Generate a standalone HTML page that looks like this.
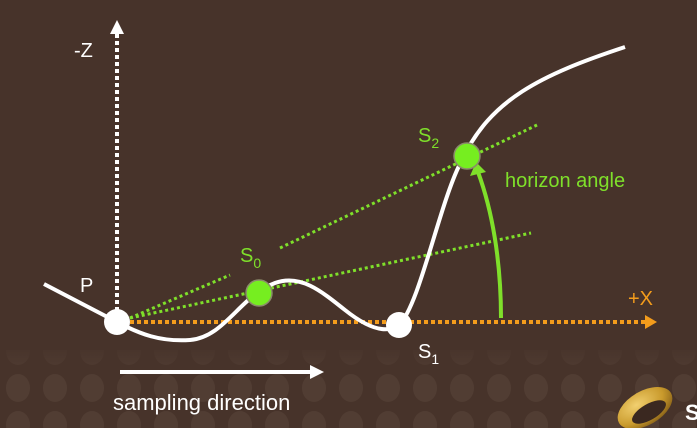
<!DOCTYPE html>
<html><head><meta charset="utf-8"><style>
html,body{margin:0;padding:0;background:#47332a;width:697px;height:428px;overflow:hidden;}
svg{display:block;font-family:"Liberation Sans",sans-serif;}
</style></head><body>
<svg width="697" height="428" viewBox="0 0 697 428">
<defs>
<pattern id="dots" x="0" y="0" width="37" height="37" patternUnits="userSpaceOnUse">
<ellipse cx="18" cy="18" rx="12" ry="14" fill="#513d33"/>
</pattern>
<linearGradient id="fade" x1="0" y1="0" x2="0" y2="1">
<stop offset="0" stop-color="#47332a" stop-opacity="1"/>
<stop offset="1" stop-color="#47332a" stop-opacity="0"/>
</linearGradient>
<radialGradient id="gold" cx="0.4" cy="0.3" r="0.8">
<stop offset="0" stop-color="#f2d070"/><stop offset="0.6" stop-color="#c99a2c"/><stop offset="1" stop-color="#7a5514"/>
</radialGradient>
</defs>
<rect width="697" height="428" fill="#47332a"/>
<rect x="0" y="350" width="697" height="78" fill="url(#dots)"/>
<rect x="0" y="345" width="697" height="30" fill="url(#fade)"/>

<line x1="117" y1="318" x2="117" y2="32" stroke="#fff" stroke-width="4" stroke-dasharray="4,3"/>
<polygon points="110,34 124,34 117,20" fill="#fff"/>
<text x="74" y="57" font-size="20" fill="#fff">-Z</text>

<line x1="130" y1="322" x2="645" y2="322" stroke="#f39c1c" stroke-width="4" stroke-dasharray="4,3"/>
<polygon points="645,315 645,329 657,322" fill="#f39c1c"/>
<text x="628" y="305" font-size="20" fill="#f39c1c">+X</text>

<line x1="130" y1="318" x2="230" y2="275" stroke="#7fe02a" stroke-width="3" stroke-dasharray="3,3"/>
<line x1="280" y1="248" x2="537" y2="125" stroke="#7fe02a" stroke-width="3" stroke-dasharray="3,3"/>
<line x1="130" y1="318" x2="531" y2="233" stroke="#7fe02a" stroke-width="3" stroke-dasharray="3,3"/>

<path d="M44,284 L117,322 C140,334 160,342 190,340 C225,337 240,296 275,283 C300,274 320,290 345,310 C365,326 385,335 399,325 C420,305 440,200 462,160 C490,100 540,75 625,47" fill="none" stroke="#fff" stroke-width="4"/>

<path d="M501,318 C501,260 492,210 478,172" fill="none" stroke="#7fe02a" stroke-width="4"/>
<polygon points="470,176 486,172 476,162" fill="#7fe02a"/>
<text x="505" y="187" font-size="20" fill="#7fe02a">horizon angle</text>

<circle cx="117" cy="322" r="13" fill="#fff"/>
<text x="80" y="292" font-size="20" fill="#fff">P</text>
<circle cx="259" cy="293" r="13" fill="#76ee20" stroke="#8a8a6a" stroke-width="1.5"/>
<text x="240" y="262" font-size="20" fill="#7fe02a">S<tspan font-size="14" dy="6">0</tspan></text>
<circle cx="399" cy="325" r="13" fill="#fff"/>
<text x="418" y="358" font-size="20" fill="#fff">S<tspan font-size="14" dy="6">1</tspan></text>
<circle cx="467" cy="156" r="13" fill="#76ee20" stroke="#8a8a6a" stroke-width="1.5"/>
<text x="418" y="142" font-size="20" fill="#7fe02a">S<tspan font-size="14" dy="6">2</tspan></text>

<line x1="120" y1="372" x2="312" y2="372" stroke="#fff" stroke-width="4"/>
<polygon points="310,365 310,379 324,372" fill="#fff"/>
<text x="113" y="410" font-size="22" fill="#fff">sampling direction</text>

<g>
<ellipse cx="645" cy="408" rx="30" ry="17" fill="url(#gold)" transform="rotate(-30 645 408)"/>
<ellipse cx="649" cy="412" rx="19" ry="8" fill="#3a2820" transform="rotate(-30 649 412)"/>
<text x="685" y="420" font-size="22" font-weight="bold" fill="#fff">S</text>
</g>
</svg>
<script>
const curvePoints = [[44,284],[117,322],[190,340],[275,283],[399,325],[462,160],[625,47]];
const sampleNames = ["P","S0","S1","S2"];
const sampleX = [117,259,399,467];
const sampleY = [322,293,325,156];
</script>
</body></html>
